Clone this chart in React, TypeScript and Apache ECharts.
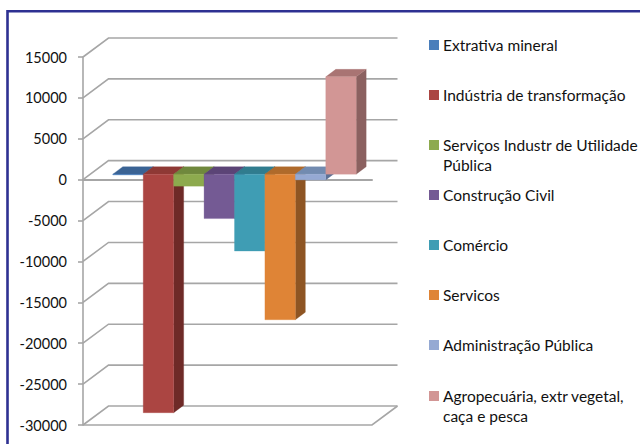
import React, { useEffect, useRef } from "react";
import * as echarts from "echarts";

const sectors = [
  "Extrativa mineral",
  "Indústria de transformação",
  "Serviços Industr de Utilidade Pública",
  "Construção Civil",
  "Comércio",
  "Servicos",
  "Administração Pública",
  "Agropecuária, extr vegetal, caça e pesca",
];
const legendLabels = [
  "Extrativa mineral",
  "Indústria de transformação",
  "\nServiços Industr de Utilidade\nPública",
  "Construção Civil",
  "Comércio",
  "Servicos",
  "Administração Pública",
  "\nAgropecuária, extr vegetal,\ncaça e pesca",
];
const values = [-100, -29170, -1470, -5430, -9400, -17800, -700, 11900];
const frontColors = ["#4A7EBB", "#AB4542", "#8DAA4E", "#745A94", "#3F9DB4", "#DF8436", "#95A9D3", "#D29695"];
const topColors = ["#3A6394", "#8E3935", "#6F883D", "#5B4476", "#307C8E", "#AF6A2B", "#728BB0", "#A97473"];
const sideColors = ["#2F5078", "#6E2A27", "#56692F", "#46345B", "#256070", "#8E5523", "#5C7095", "#8B6160"];
const yTicks = [-30000, -25000, -20000, -15000, -10000, -5000, 0, 5000, 10000, 15000];
const axisGray = "#A6A6A6";

const WALL_DX = 25.5;
const WALL_DY = -19;
const BAR_OFF_DX = 7;
const BAR_OFF_DY = -5.5;
const BAR_DEPTH_DX = 10;
const BAR_DEPTH_DY = -7.5;

function poly(points: number[][], fill: string) {
  return { type: "polygon", shape: { points }, style: { fill, stroke: fill, lineWidth: 0.3 } };
}

export default function App() {
  const ref = useRef<HTMLDivElement>(null);
  useEffect(() => {
    document.body.style.margin = "0";
    const chart = echarts.init(ref.current!, undefined, { renderer: "svg" });
    const wallSeries = {
      type: "custom",
      name: "wall",
      silent: true,
      z: 1,
      coordinateSystem: "cartesian2d",
      data: yTicks.map((v) => [0, v]),
      renderItem: (_p: any, api: any) => {
        const v = api.value(1);
        const [cx, y] = api.coord([0, v]);
        const w = api.size([1, 0])[0];
        const left = cx - w / 2;
        const right = cx + w / 2;
        const pts: number[][] = [
          [left, y],
          [left + WALL_DX, y + WALL_DY],
          [right + WALL_DX, y + WALL_DY],
        ];
        const children: any[] = [
          { type: "polyline", shape: { points: pts }, style: { stroke: axisGray, lineWidth: 1.6, fill: "none" } },
        ];
        if (v === yTicks[0]) {
          children.push({
            type: "polyline",
            shape: { points: [[left, y], [right, y], [right + WALL_DX, y + WALL_DY]] },
            style: { stroke: axisGray, lineWidth: 1.6, fill: "none" },
          });
        }
        return { type: "group", children };
      },
    };
    const barSeries = sectors.map((name, i) => ({
      type: "custom",
      name,
      z: 3 + i,
      silent: true,
      coordinateSystem: "cartesian2d",
      itemStyle: { color: frontColors[i] },
      data: [[0, values[i]]],
      renderItem: (_p: any, api: any) => {
        const v = api.value(1);
        const [cx, y0raw] = api.coord([0, 0]);
        const yvRaw = api.coord([0, v])[1];
        const size = api.size([1, 0])[0];
        const bw = size / 9.5;
        const left = cx - size / 2 + 0.75 * bw + i * bw + BAR_OFF_DX;
        const right = left + bw;
        const y0 = y0raw + BAR_OFF_DY;
        const yv = yvRaw + BAR_OFF_DY;
        const top = Math.min(y0, yv);
        const bottom = Math.max(y0, yv);
        const dx = BAR_DEPTH_DX;
        const dy = BAR_DEPTH_DY;
        return {
          type: "group",
          children: [
            poly([[right, top], [right + dx, top + dy], [right + dx, bottom + dy], [right, bottom]], sideColors[i]),
            poly([[left, top], [left + dx, top + dy], [right + dx, top + dy], [right, top]], topColors[i]),
            poly([[left, top], [right, top], [right, bottom], [left, bottom]], frontColors[i]),
          ],
        };
      },
    }));
    chart.setOption({
      animation: false,
      backgroundColor: "#ffffff",
      textStyle: { fontFamily: "Lato" },
      grid: { left: 83, right: 268, top: 57, bottom: 19, containLabel: false },
      xAxis: {
        type: "category",
        data: [""],
        axisLine: { onZero: true, lineStyle: { color: axisGray, width: 2 } },
        axisTick: { show: false },
        axisLabel: { show: false },
        splitLine: { show: false },
      },
      yAxis: {
        type: "value",
        min: -30000,
        max: 15000,
        interval: 5000,
        axisLine: { show: true, lineStyle: { color: axisGray, width: 1.6 } },
        axisTick: { show: true, length: 5, lineStyle: { color: axisGray, width: 1.6 } },
        axisLabel: {
          color: "#111111",
          fontSize: 14.5,
          fontFamily: "Lato",
          margin: 16,
          formatter: (v: number) => String(v),
        },
        splitLine: { show: false },
      },
      legend: sectors.map((name, i) => ({
        data: [{ name, icon: "rect" }],
        left: 429,
        top: (legendLabels[i].startsWith("\n") ? 14 : 34) + i * 50 + 1 + (i === 7 ? 1 : 0),
        itemWidth: 10,
        itemHeight: 10,
        itemGap: 0,
        padding: 0,
        selectedMode: false,
        formatter: () => legendLabels[i],
        textStyle: { color: "#111111", fontSize: 15.5, fontFamily: "Lato", lineHeight: 20, padding: [0, 0, 0, -1] },
      })),
      graphic: [
        {
          type: "rect",
          z: 0,
          silent: true,
          shape: { x: 7.5, y: 11.3, width: 640, height: 440 },
          style: { fill: "none", stroke: "#2E3192", lineWidth: 2.6 },
        },
      ],
      series: [wallSeries, ...barSeries],
    });
    return () => chart.dispose();
  }, []);
  return <div ref={ref} style={{ position: "absolute", left: 0, top: 0, width: 640, height: 444 }} />;
}
